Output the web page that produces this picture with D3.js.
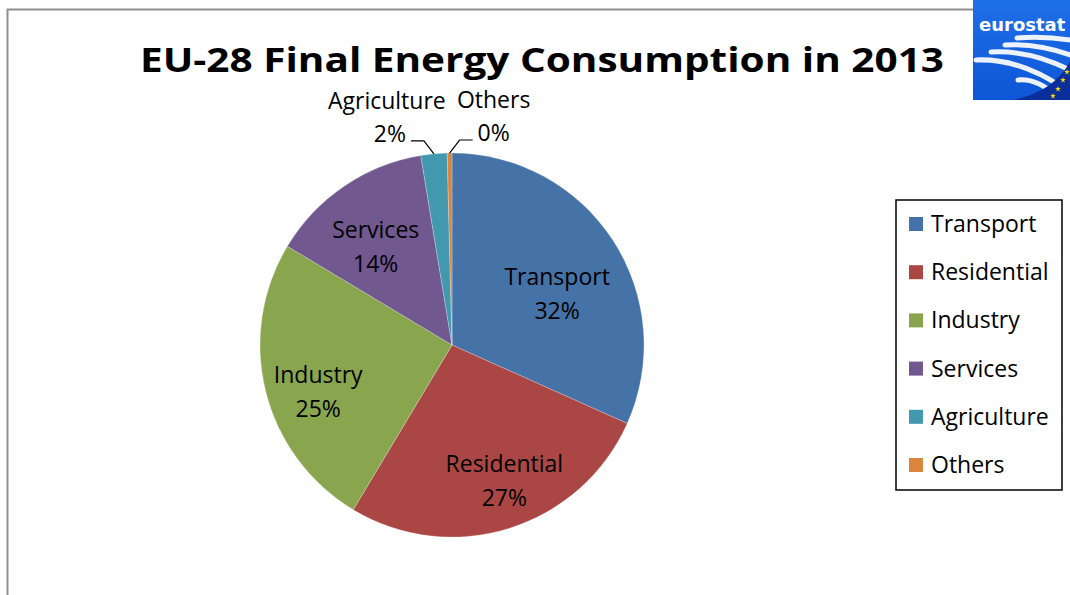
<!DOCTYPE html>
<html><head><meta charset="utf-8">
<script src="https://cdn.jsdelivr.net/npm/d3@7"></script>
<style>body{margin:0;background:#fff}svg{display:block}text{font-variant-ligatures:none}</style>
</head><body>
<svg id="c" width="1070" height="595"></svg>
<script>
const categories = ["Transport","Residential","Industry","Services","Agriculture","Others"];
const shares = [31.7, 26.9, 25.0, 13.8, 2.2, 0.4];
const colors = ["#4572A7","#AA4643","#89A54E","#71588F","#4198AF","#DB843D"];
const title = "EU-28 Final Energy Consumption in 2013";

const svg = d3.select("#c");
const font = "'Open Sans', Lato, sans-serif";

// chart frame (gray)
svg.append("path").attr("d","M7.5,595 V9.5 H973").attr("fill","none").attr("stroke","#8f8f8f").attr("stroke-width",2);

// title
svg.append("text").attr("x",140).attr("y",72)
  .attr("font-family",font).attr("font-weight","bold").attr("font-size",34)
  .attr("textLength",804).attr("lengthAdjust","spacingAndGlyphs")
  .attr("fill","#000").text(title);

// pie
const cx = 452, cy = 345, R = 192;
const data = categories.map((c,i)=>({name:c, value:shares[i], color:colors[i]}));
const pie = d3.pie().sort(null).value(d=>d.value);
const arcs = pie(data);
const arc = d3.arc().innerRadius(0).outerRadius(R);
const g = svg.append("g").attr("transform",`translate(${cx},${cy})`);
g.selectAll("path").data(arcs).join("path")
  .attr("d",arc).attr("fill",d=>d.data.color)
  .attr("stroke","#ffffff").attr("stroke-opacity",0.35).attr("stroke-width",0.7);

const total = d3.sum(shares);
const pct = v => Math.round(v/total*100) + "%";
const fs = 23;
// inside labels
const insideR = [0.64, 0.70, 0.74, 0.67];
const dxShift = [2, 12, 4, -4];
const dyShift = [6, -2, 3, -2];
arcs.forEach((a,i)=>{
  if (a.data.value/total < 0.05) return;
  const lab = d3.arc().innerRadius(R*insideR[i]).outerRadius(R*insideR[i]);
  const [x0,y0] = lab.centroid(a);
  const x = x0 + dxShift[i], y = y0 + dyShift[i];
  const t = g.append("text").attr("text-anchor","middle").attr("font-family",font)
    .attr("font-size",fs).attr("fill","#000");
  t.append("tspan").attr("x",x).attr("y",y+1).text(a.data.name);
  t.append("tspan").attr("x",x).attr("y",y+35).text(pct(a.data.value));
});
// outside labels with leader lines
const small = arcs.filter(a=>a.data.value/total < 0.05);
small.forEach((a,k)=>{
  const side = k===0 ? -1 : 1;
  const edge = d3.arc().innerRadius(R).outerRadius(R);
  const [x0,y0] = edge.centroid(a);
  const x1 = x0 + side*10, y1 = y0 - 13;
  const x2 = x1 + side*13;
  g.append("polyline").attr("points",`${x0},${y0} ${x1},${y1} ${x2},${y1}`)
    .attr("fill","none").attr("stroke","#000").attr("stroke-width",1.2);
  const tp = g.append("text").attr("font-family",font).attr("font-size",fs)
    .attr("text-anchor", side<0 ? "end" : "start")
    .attr("x", x2 + side*5).attr("y", y1 + 1).text(pct(a.data.value));
  const w = tp.node().getComputedTextLength();
  const pc = side<0 ? x2 - 5 - w/2 : x2 + 5 + w/2;
  g.append("text").attr("font-family",font).attr("font-size",fs).attr("text-anchor","middle")
    .attr("x", pc - (side<0 ? 3 : 0)).attr("y", y1 - 32).text(a.data.name);
});

// legend
const lg = svg.append("g");
lg.append("rect").attr("x",896).attr("y",200).attr("width",166).attr("height",290)
  .attr("fill","#fff").attr("stroke","#000").attr("stroke-width",1.5);
const ly = d3.scalePoint().domain(categories).range([224,465]);
categories.forEach((c,i)=>{
  lg.append("rect").attr("x",909).attr("y",ly(c)-7).attr("width",14).attr("height",14).attr("fill",colors[i]);
  lg.append("text").attr("x",931).attr("y",ly(c)+8).attr("font-family",font).attr("font-size",fs).text(c);
});

// eurostat logo
const logo = svg.append("g").attr("transform","translate(973,0)");
const defs = svg.append("defs");
const gr = defs.append("linearGradient").attr("id","lg1").attr("x1",0).attr("y1",0).attr("x2",0).attr("y2",1);
gr.append("stop").attr("offset","0").attr("stop-color","#1f6fe8");
gr.append("stop").attr("offset","1").attr("stop-color","#0d56d6");
logo.append("rect").attr("width",97).attr("height",100).attr("fill","url(#lg1)");
logo.append("text").attr("x",6).attr("y",31).attr("font-family","'DejaVu Sans', sans-serif").attr("font-weight","bold")
  .attr("font-size",18).attr("fill","#fff").text("eurostat");
[[44,38,97,40],[32,45,97,55],[18,52,97,70],[3,60,90,88],[45,80,85,98]].forEach(([x1,y1,x2,y2])=>{
  logo.append("path").attr("d",`M${x1},${y1} Q${(x1+x2)/2},${y1-2} ${x2},${y2}`)
    .attr("fill","none").attr("stroke","#fff").attr("stroke-width",5).attr("stroke-linecap","round").attr("opacity",0.92);
});
logo.append("path").attr("d","M40,100 Q80,92 97,62 V100 Z").attr("fill","#0a2f9a");
[[90,80],[85,89],[80,96],[94,72]].forEach(([x,y])=>{
  logo.append("path").attr("d",d3.symbol(d3.symbolStar,10)()).attr("transform",`translate(${x},${y})`).attr("fill","#ffdd00");
});
</script>
</body></html>
